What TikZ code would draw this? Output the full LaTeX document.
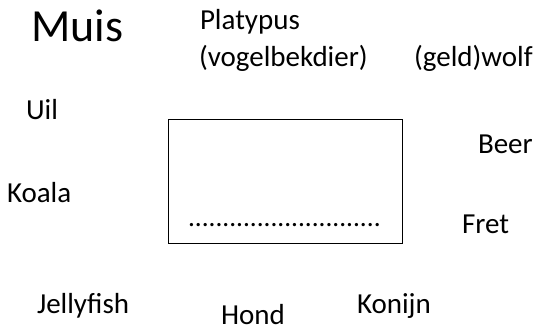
\documentclass[tikz,border=0pt]{standalone}
\usepackage{fontspec}
\setmainfont{Carlito}
\tikzset{
  lbl/.style={anchor=base west, inner sep=0pt, outer sep=0pt, font=\fontsize{29}{34}\selectfont},
  big/.style={anchor=base west, inner sep=0pt, outer sep=0pt, font=\fontsize{46}{52}\selectfont},
  dotline/.style={anchor=base west, inner sep=0pt, outer sep=0pt, font=\fontsize{27.3}{32}\selectfont},
  frame/.style={draw=black, line width=1pt}
}
\begin{document}
\begin{tikzpicture}[x=1pt,y=-1pt]
\useasboundingbox (0,0) rectangle (537,327);
\node[big] (muis) at (31,41) {Muis};
\node[lbl] (platypus) at (200,29) {Platypus};
\node[lbl] (vogel) at (199,66) {(vogelbekdier)};
\node[lbl] (wolf) at (414,66) {(geld)wolf};
\node[lbl] (uil) at (26,119) {Uil};
\node[lbl] (koala) at (7,202) {Koala};
\node[lbl] (beer) at (478,153) {Beer};
\node[lbl] (fret) at (462,233) {Fret};
\node[lbl] (jelly) at (37,313) {Jellyfish};
\node[lbl] (hond) at (221,324) {Hond};
\node[lbl] (konijn) at (357,313) {Konijn};
\node[frame, minimum width=234pt, minimum height=124pt, inner sep=0pt, anchor=north west] (box) at (168,119) {};
\node[dotline] (dots) at (188,226) {............................};
\end{tikzpicture}
\end{document}
